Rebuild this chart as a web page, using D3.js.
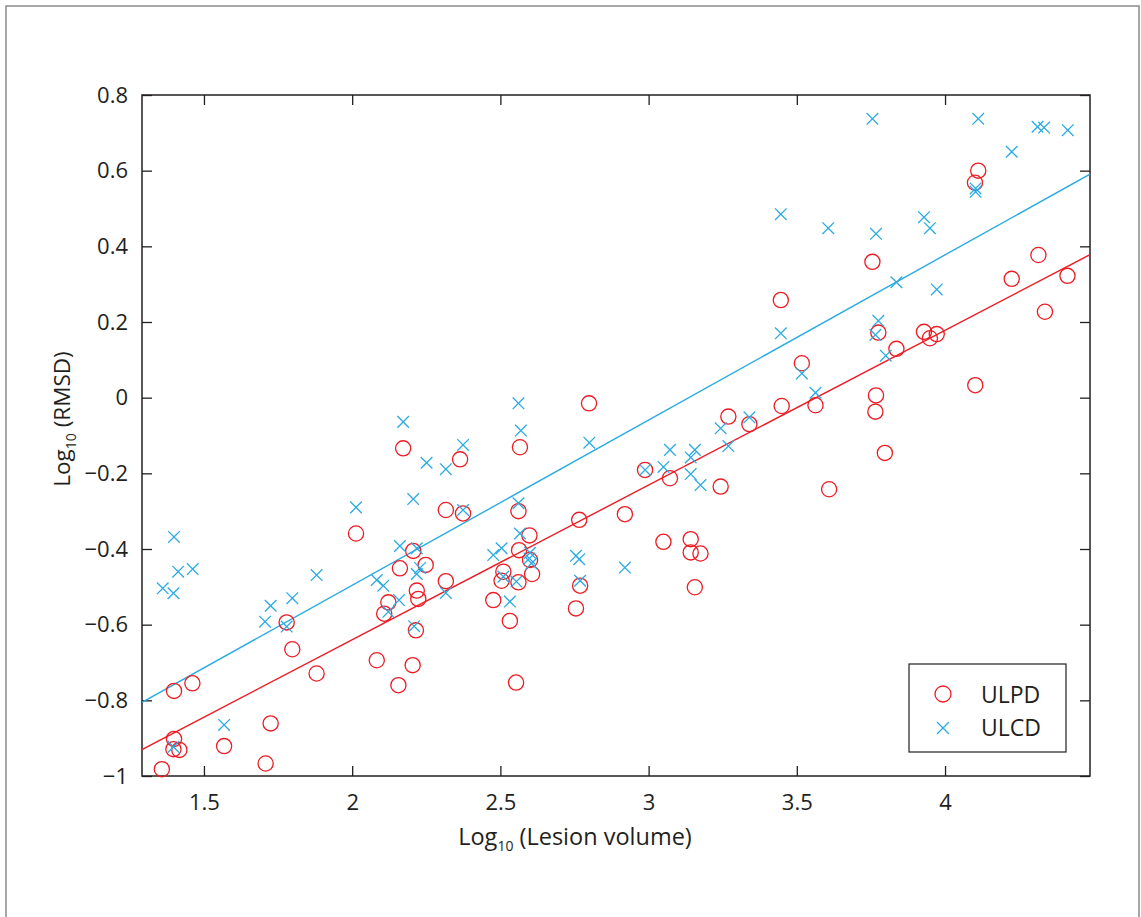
<!DOCTYPE html>
<html><head><meta charset="utf-8">
<script src="https://cdn.jsdelivr.net/npm/d3@7"></script>
<style>
body{margin:0;background:#fff;}
svg text{font-family:"Open Sans",sans-serif;fill:#231f20;}
</style>
</head><body>
<svg id="chart" width="1141" height="917"></svg>
<script>
// ---- data ----
const seriesNames = ["ULPD", "ULCD"];
const ulpdX = [1.358,1.399,1.399,1.397,1.417,1.461,1.568,1.708,1.725,1.779,1.798,1.880,2.013,2.083,2.108,2.122,2.156,2.161,2.172,2.204,2.206,2.215,2.218,2.223,2.248,2.316,2.316,2.364,2.374,2.476,2.504,2.510,2.532,2.553,2.561,2.561,2.563,2.566,2.598,2.600,2.607,2.755,2.766,2.769,2.799,2.920,2.988,3.050,3.072,3.142,3.142,3.156,3.175,3.243,3.269,3.340,3.446,3.449,3.517,3.563,3.609,3.755,3.765,3.767,3.775,3.797,3.836,3.929,3.949,3.972,4.101,4.102,4.112,4.225,4.315,4.337,4.413];
const ulpdY = [-0.982,-0.775,-0.902,-0.929,-0.931,-0.755,-0.921,-0.967,-0.861,-0.594,-0.665,-0.729,-0.359,-0.694,-0.571,-0.541,-0.760,-0.451,-0.134,-0.707,-0.405,-0.615,-0.510,-0.532,-0.442,-0.485,-0.297,-0.163,-0.306,-0.535,-0.484,-0.460,-0.590,-0.753,-0.300,-0.488,-0.403,-0.131,-0.364,-0.429,-0.466,-0.557,-0.323,-0.497,-0.015,-0.308,-0.191,-0.381,-0.213,-0.374,-0.409,-0.501,-0.412,-0.235,-0.050,-0.070,0.258,-0.022,0.091,-0.020,-0.242,0.359,-0.037,0.006,0.172,-0.146,0.129,0.174,0.157,0.168,0.568,0.033,0.600,0.314,0.377,0.227,0.322];
const ulcdX = [1.361,1.397,1.399,1.413,1.462,1.397,1.568,1.706,1.725,1.779,1.798,1.880,2.013,2.083,2.105,2.122,2.158,2.161,2.172,2.206,2.209,2.218,2.218,2.229,2.251,2.316,2.316,2.374,2.374,2.476,2.504,2.510,2.532,2.554,2.561,2.561,2.566,2.569,2.598,2.600,2.605,2.755,2.766,2.769,2.800,2.920,2.988,3.050,3.072,3.142,3.142,3.156,3.175,3.243,3.269,3.340,3.446,3.446,3.517,3.563,3.606,3.755,3.765,3.767,3.775,3.800,3.836,3.929,3.949,3.972,4.103,4.103,4.112,4.225,4.312,4.334,4.414];
const ulcdY = [-0.504,-0.517,-0.368,-0.460,-0.453,-0.923,-0.865,-0.592,-0.550,-0.605,-0.530,-0.469,-0.290,-0.482,-0.497,-0.566,-0.535,-0.392,-0.064,-0.268,-0.604,-0.398,-0.466,-0.450,-0.172,-0.189,-0.516,-0.125,-0.297,-0.416,-0.398,-0.473,-0.539,-0.486,-0.015,-0.279,-0.359,-0.087,-0.425,-0.410,-0.438,-0.418,-0.427,-0.484,-0.119,-0.449,-0.191,-0.183,-0.138,-0.202,-0.158,-0.138,-0.231,-0.081,-0.128,-0.052,0.485,0.170,0.064,0.013,0.448,0.737,0.166,0.433,0.203,0.111,0.305,0.477,0.448,0.286,0.553,0.544,0.737,0.650,0.716,0.714,0.707];
// fitted regression lines: [slope, intercept]
const ulpdFit = [0.409, -1.458];
const ulcdFit = [0.4366, -1.369];
const xDomain = [1.291, 4.489];
const yDomain = [-1, 0.8];
const xTicks = [1.5, 2, 2.5, 3, 3.5, 4];
const yTicks = [-1, -0.8, -0.6, -0.4, -0.2, 0, 0.2, 0.4, 0.6, 0.8];

// ---- layout ----
const L = 142, T = 95, R = 1090, B = 776;
const red = "#ed1c24", blue = "#29abe2", ink = "#231f20";

const svg = d3.select("#chart");
svg.append("rect").attr("x", 6).attr("y", 6).attr("width", 1133).attr("height", 920)
  .attr("fill", "none").attr("stroke", "#8a8a8a").attr("stroke-width", 1.5);

const x = d3.scaleLinear().domain(xDomain).range([L, R]);
const y = d3.scaleLinear().domain(yDomain).range([B, T]);
const fmt = d3.format("");

svg.append("clipPath").attr("id", "clip").append("rect")
  .attr("x", L).attr("y", T).attr("width", R - L).attr("height", B - T);

// axes with inward ticks
const axB = svg.append("g").attr("transform", `translate(0,${B})`)
  .call(d3.axisBottom(x).tickValues(xTicks).tickFormat(fmt).tickSizeInner(-10).tickSizeOuter(0).tickPadding(18));
const axT = svg.append("g").attr("transform", `translate(0,${T})`)
  .call(d3.axisTop(x).tickValues(xTicks).tickFormat("").tickSizeInner(-10).tickSizeOuter(0));
const axL = svg.append("g").attr("transform", `translate(${L},0)`)
  .call(d3.axisLeft(y).tickValues(yTicks).tickFormat(fmt).tickSizeInner(-10).tickSizeOuter(0).tickPadding(14));
const axR = svg.append("g").attr("transform", `translate(${R},0)`)
  .call(d3.axisRight(y).tickValues(yTicks).tickFormat("").tickSizeInner(-10).tickSizeOuter(0));
[axB, axT, axL, axR].forEach(a => {
  a.select(".domain").remove();
  a.selectAll(".tick line").attr("stroke", ink).attr("stroke-width", 1.3);
  a.selectAll("text").attr("font-size", 22).attr("fill", ink).attr("font-family", '"Open Sans",sans-serif');
});
svg.append("rect").attr("x", L).attr("y", T).attr("width", R - L).attr("height", B - T)
  .attr("fill", "none").attr("stroke", ink).attr("stroke-width", 1.5);

// regression lines
const g = svg.append("g").attr("clip-path", "url(#clip)");
[[ulpdFit, red], [ulcdFit, blue]].forEach(([f, c]) => {
  const pts = xDomain.map(v => [v, f[0] * v + f[1]]);
  g.append("path").attr("d", d3.line().x(d => x(d[0])).y(d => y(d[1]))(pts))
    .attr("fill", "none").attr("stroke", c).attr("stroke-width", 1.4);
});

// markers
const ulpd = ulpdX.map((v, i) => [v, ulpdY[i]]);
const ulcd = ulcdX.map((v, i) => [v, ulcdY[i]]);
svg.append("g").selectAll("circle").data(ulpd).join("circle")
  .attr("cx", d => x(d[0])).attr("cy", d => y(d[1])).attr("r", 7.6)
  .attr("fill", "none").attr("stroke", red).attr("stroke-width", 1.3);
const s = 5.8;
const crossPath = (cx, cy, s) => `M${cx - s},${cy - s}L${cx + s},${cy + s}M${cx - s},${cy + s}L${cx + s},${cy - s}`;
svg.append("g").selectAll("path").data(ulcd).join("path")
  .attr("d", d => crossPath(x(d[0]), y(d[1]), s))
  .attr("fill", "none").attr("stroke", blue).attr("stroke-width", 1.3);

// axis labels
const xl = svg.append("text").attr("x", 575).attr("y", 845).attr("text-anchor", "middle").attr("font-size", 23.5);
xl.append("tspan").text("Log");
xl.append("tspan").attr("font-size", 14).attr("dy", 6).text("10");
xl.append("tspan").attr("dy", -6).text(" (Lesion volume)");

const yl = svg.append("text").attr("transform", "translate(70,419) rotate(-90)").attr("text-anchor", "middle").attr("font-size", 22.5);
yl.append("tspan").text("Log");
yl.append("tspan").attr("font-size", 14).attr("dy", 6).text("10");
yl.append("tspan").attr("dy", -6).text(" (RMSD)");

// legend
const lg = svg.append("g");
lg.append("rect").attr("x", 909).attr("y", 664).attr("width", 157).attr("height", 88)
  .attr("fill", "#fff").attr("stroke", ink).attr("stroke-width", 1.2);
lg.append("circle").attr("cx", 943).attr("cy", 694).attr("r", 8).attr("fill", "none").attr("stroke", red).attr("stroke-width", 1.3);
lg.append("path").attr("d", crossPath(943, 728, 6)).attr("fill", "none").attr("stroke", blue).attr("stroke-width", 1.3);
lg.selectAll("text").data(seriesNames).join("text")
  .attr("x", 981).attr("y", (d, i) => 703 + i * 33).attr("font-size", 23).text(d => d);
</script>
</body></html>
